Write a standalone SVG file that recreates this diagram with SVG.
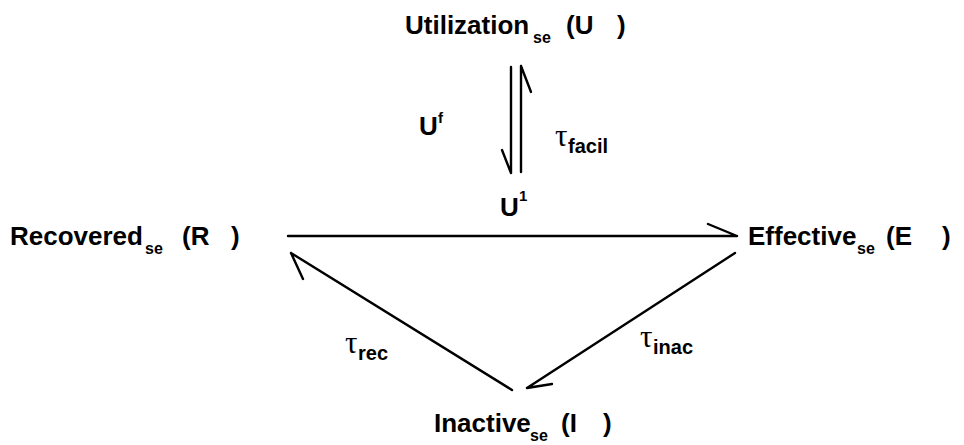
<svg xmlns="http://www.w3.org/2000/svg" width="964" height="445" viewBox="0 0 964 445">
<style>
.t{font-family:"Liberation Sans",Arial,sans-serif;font-weight:bold;font-size:26px;fill:#000}
.s{font-family:"Liberation Sans",Arial,sans-serif;font-weight:bold;font-size:16px;fill:#000}
.g{font-family:"Liberation Serif","Times New Roman",serif;font-size:31px;fill:#000}
.sub{font-family:"Liberation Sans",Arial,sans-serif;font-weight:bold;font-size:20px;fill:#000}
.l{stroke:#000;stroke-width:2.4;fill:none;stroke-linecap:round}
</style>
<rect width="964" height="445" fill="#fff"/>
<g id="utilization">
<text class="t" x="405" y="34">Utilization</text>
<text class="s" x="533" y="43">se</text>
<text class="t" x="566" y="34">(U</text>
<text class="t" x="617" y="34">)</text>
</g>
<g id="recovered">
<text class="t" x="10" y="245">Recovered</text>
<text class="s" x="145" y="254">se</text>
<text class="t" x="182" y="245">(R</text>
<text class="t" x="231" y="245">)</text>
</g>
<g id="effective">
<text class="t" x="748" y="245">Effective</text>
<text class="s" x="857" y="254">se</text>
<text class="t" x="886" y="245">(E</text>
<text class="t" x="942" y="245">)</text>
</g>
<g id="inactive">
<text class="t" x="434" y="432">Inactive</text>
<text class="s" x="530" y="441">se</text>
<text class="t" x="561" y="432">(I</text>
<text class="t" x="603" y="432">)</text>
</g>
<g id="connectors">
<path class="l" d="M511 67V173M502 150L511 173"/>
<path class="l" d="M521 172V66M521 66L531 92"/>
<path class="l" d="M288 236H737M737 236L708 224"/>
<path class="l" d="M512 390L291 253M291 253L303 279"/>
<path class="l" d="M735 253L527 388M527 388L552 384"/>
</g>
<g id="labels">
<text class="t" x="419" y="135">U</text>
<text class="s" x="438" y="123" style="font-size:15px">f</text>
<text class="g" x="555" y="146">τ</text>
<text class="sub" x="568" y="153">facil</text>
<text class="t" x="500" y="216">U</text>
<text class="s" x="519" y="201" style="font-size:15px">1</text>
<text class="g" x="345" y="353">τ</text>
<text class="sub" x="358" y="360">rec</text>
<text class="g" x="640" y="347">τ</text>
<text class="sub" x="653" y="354">inac</text>
</g>
</svg>
